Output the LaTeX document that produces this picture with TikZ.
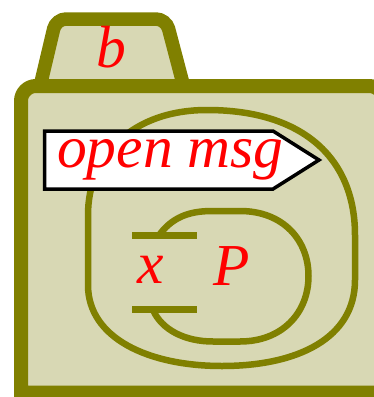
\documentclass[tikz,border=0pt]{standalone}
\usepackage{fontspec}
\setmainfont{Liberation Serif}
\definecolor{olivedark}{RGB}{128,128,0}
\definecolor{olivefill}{RGB}{216,216,180}
\tikzset{
  frame/.style={draw=olivedark, fill=olivefill, line width=14pt},
  loopline/.style={draw=olivedark, line width=6.5pt},
  barline/.style={draw=olivedark, line width=7pt},
  lbl/.style={text=red, inner sep=0pt, anchor=base, font=\fontsize{59.5}{62}\selectfont\itshape},
  msgbox/.style={draw=black, fill=white, line width=3.5pt, line join=miter},
}
\begin{document}
\begin{tikzpicture}[x=1pt,y=-1pt]
\useasboundingbox (0,0) rectangle (374,397);
\clip (0,0) rectangle (374,397);
% tab
\draw[frame, line width=13.5pt, rounded corners=10pt] (38,95) -- (56,19) -- (166,19) -- (186,95);
% body
\draw[frame] (21,392.5) -- (21,101) arc[start angle=180, end angle=270, radius=15]
  -- (369,86) arc[start angle=270, end angle=360, radius=15] -- (384,392.5) -- cycle;
\node[lbl] (b) at (111,67) {b};
% outer loop
\draw[loopline] (207,110) .. controls (305,110) and (355,160) .. (355,235)
  -- (355,280) .. controls (355,338) and (298,366) .. (222,366)
  .. controls (148,366) and (88,338) .. (88,285)
  -- (88,215) .. controls (88,155) and (133,110) .. (207,110) -- cycle;
% inner loop
\coordinate (itop) at (160,234);
\coordinate (ibot) at (153,310);
\draw[loopline] (itop) .. controls (175,214) and (195,211) .. (213,211)
  -- (240,211) .. controls (283,211) and (308.5,240) .. (308.5,276)
  .. controls (308.5,313) and (282,341.5) .. (240,341.5)
  -- (213,341.5) .. controls (185,341.5) and (162,330) .. (ibot);
% bars
\coordinate (t1) at (132,235.5); \coordinate (t2) at (197,235.5);
\coordinate (b1) at (132,309.5); \coordinate (b2) at (197,309.5);
\draw[barline] (t1) -- (t2);
\draw[barline] (b1) -- (b2);
\node[lbl] (x) at (151,283) {x};
\node[lbl] (P) at (232,285) {P};
% message box
\draw[msgbox] (44.5,131) -- (273,131) -- (319,160) -- (273,189) -- (44.5,189) -- cycle;
\node[lbl, anchor=base west] (msg) at (57,167) {open msg};
\end{tikzpicture}
\end{document}
